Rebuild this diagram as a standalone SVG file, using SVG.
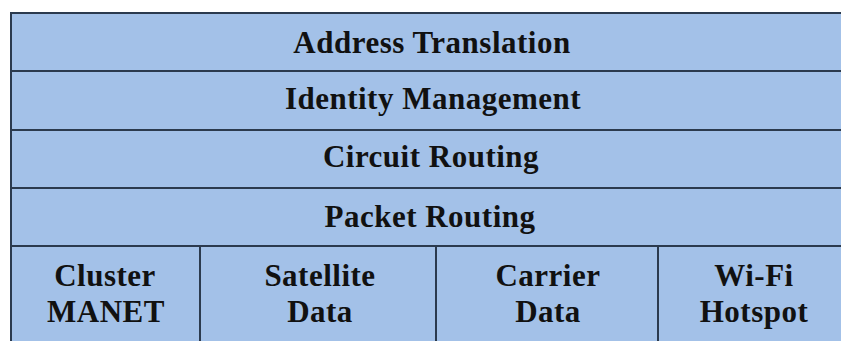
<svg xmlns="http://www.w3.org/2000/svg" width="841" height="341" viewBox="0 0 841 341">
<style>
.cell{fill:#a3c1e8;stroke:#2b3a4e;stroke-width:2}
.t{font-family:"Liberation Serif","Times New Roman",serif;font-weight:bold;font-size:31px;fill:#111;text-anchor:middle;letter-spacing:0.5px}
</style>
<rect width="841" height="341" fill="#ffffff"/>
<g id="address-translation"><rect class="cell" x="11" y="13" width="832" height="58"/><text class="t" x="432" y="53">Address Translation</text></g>
<g id="identity-management"><rect class="cell" x="11" y="71" width="832" height="59"/><text class="t" x="433" y="109">Identity Management</text></g>
<g id="circuit-routing"><rect class="cell" x="11" y="130" width="832" height="58"/><text class="t" x="431" y="167">Circuit Routing</text></g>
<g id="packet-routing"><rect class="cell" x="11" y="188" width="832" height="58"/><text class="t" x="430" y="227">Packet Routing</text></g>
<g id="cluster-manet"><rect class="cell" x="11" y="246" width="189" height="96"/><text class="t" x="105" y="286">Cluster</text><text class="t" x="106" y="322">MANET</text></g>
<g id="satellite-data"><rect class="cell" x="200" y="246" width="236" height="96"/><text class="t" x="320" y="286">Satellite</text><text class="t" x="320" y="322">Data</text></g>
<g id="carrier-data"><rect class="cell" x="436" y="246" width="222" height="96"/><text class="t" x="548" y="286">Carrier</text><text class="t" x="548" y="322">Data</text></g>
<g id="wifi-hotspot"><rect class="cell" x="658" y="246" width="185" height="96"/><text class="t" x="754" y="286">Wi-Fi</text><text class="t" x="754" y="322">Hotspot</text></g>
</svg>
